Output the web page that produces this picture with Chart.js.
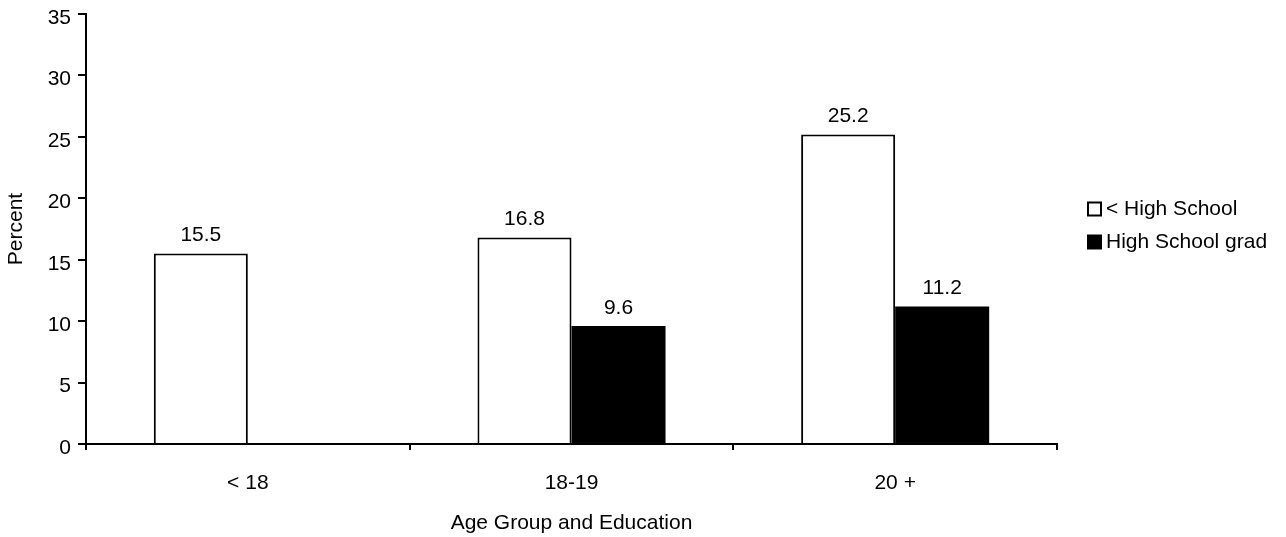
<!DOCTYPE html>
<html>
<head>
<meta charset="utf-8">
<script src="https://cdn.jsdelivr.net/npm/chart.js@4/dist/chart.umd.min.js"></script>
<style>
  html, body { margin: 0; padding: 0; background: #fff; }
  canvas { display: block; }
</style>
</head>
<body>
<canvas id="chart" width="1286" height="537"></canvas>
<script>
// Age groups on the category axis
const ageGroups = ['< 18', '18-19', '20 +'];
// Percent values per education level (no graduates in the youngest group)
const belowHighSchool = [15.5, 16.8, 25.2];
const highSchoolGrad = [null, 9.6, 11.2];
// Value axis tick labels
const percentTicks = [0, 5, 10, 15, 20, 25, 30, 35];
const seriesNames = ['< High School', 'High School grad'];

const FONT_FAMILY = '"Liberation Sans", Arial, Helvetica, sans-serif';
const FONT_SIZE = 21;

// Numbers printed above each bar, positioned from the bar elements
const barValueLabels = {
  id: 'barValueLabels',
  afterDatasetsDraw(chart) {
    const ctx = chart.ctx;
    ctx.save();
    ctx.font = FONT_SIZE + 'px ' + FONT_FAMILY;
    ctx.fillStyle = '#000';
    ctx.textAlign = 'center';
    ctx.textBaseline = 'middle';
    chart.data.datasets.forEach((ds, i) => {
      const meta = chart.getDatasetMeta(i);
      meta.data.forEach((bar, j) => {
        const v = ds.data[j];
        if (v === null || v === undefined) return;
        ctx.fillText(v.toFixed(1), bar.x, bar.y - 18);
      });
    });
    ctx.restore();
  }
};

// Legend at the right, square swatches followed by series names
const sideLegend = {
  id: 'sideLegend',
  afterDraw(chart) {
    const ctx = chart.ctx;
    const x0 = chart.chartArea.right + 31;
    const rows = [209, 242];
    const box = 13;
    ctx.save();
    ctx.font = FONT_SIZE + 'px ' + FONT_FAMILY;
    ctx.textAlign = 'left';
    ctx.textBaseline = 'middle';
    chart.data.datasets.forEach((ds, i) => {
      const cy = rows[i];
      ctx.fillStyle = ds.backgroundColor;
      ctx.fillRect(x0, cy - box / 2, box, box);
      ctx.lineWidth = 2;
      ctx.strokeStyle = '#000';
      ctx.strokeRect(x0, cy - box / 2, box, box);
      ctx.fillStyle = '#000';
      ctx.fillText(ds.label, x0 + box + 5, cy);
    });
    ctx.restore();
  }
};

new Chart(document.getElementById('chart'), {
  type: 'bar',
  data: {
    labels: ageGroups,
    datasets: [
      {
        label: seriesNames[0],
        data: belowHighSchool,
        backgroundColor: '#ffffff',
        borderColor: '#000000',
        borderWidth: 2,
        borderSkipped: 'start'
      },
      {
        label: seriesNames[1],
        data: highSchoolGrad,
        backgroundColor: '#000000',
        borderColor: '#000000',
        borderWidth: 0,
        inflateAmount: 0
      }
    ]
  },
  options: {
    responsive: false,
    animation: false,
    events: [],
    layout: { padding: { top: 14, right: 229, left: 0, bottom: 0 } },
    datasets: {
      bar: { categoryPercentage: 0.581, barPercentage: 1.0 }
    },
    plugins: {
      legend: { display: false },
      tooltip: { enabled: false }
    },
    scales: {
      x: {
        offset: true,
        grid: {
          offset: true,
          drawOnChartArea: false,
          drawTicks: true,
          tickLength: 6,
          color: '#000',
          lineWidth: 2
        },
        border: { display: true, color: '#000', width: 2 },
        ticks: {
          color: '#000',
          padding: 21,
          font: { family: FONT_FAMILY, size: FONT_SIZE }
        },
        title: {
          display: true,
          text: 'Age Group and Education',
          color: '#000',
          font: { family: FONT_FAMILY, size: FONT_SIZE },
          padding: { top: 0, bottom: 1 }
        },
        afterFit(scale) {
          scale.height = 93;
          scale.paddingLeft = 0;
          scale.paddingRight = 0;
        }
      },
      y: {
        min: 0,
        max: 35,
        afterBuildTicks(scale) {
          scale.ticks = percentTicks.map(v => ({ value: v }));
        },
        grid: {
          drawOnChartArea: false,
          drawTicks: true,
          tickLength: 8,
          color: '#000',
          lineWidth: 2
        },
        border: { display: true, color: '#000', width: 2 },
        ticks: {
          color: '#000',
          padding: 7,
          labelOffset: 4,
          font: { family: FONT_FAMILY, size: FONT_SIZE }
        },
        title: {
          display: true,
          text: 'Percent',
          color: '#000',
          font: { family: FONT_FAMILY, size: FONT_SIZE },
          padding: { top: 4, bottom: 0 }
        },
        afterFit(scale) {
          scale.width = 86;
          scale.paddingTop = 0;
          scale.paddingBottom = 0;
        }
      }
    }
  },
  plugins: [barValueLabels, sideLegend]
});
</script>
</body>
</html>
